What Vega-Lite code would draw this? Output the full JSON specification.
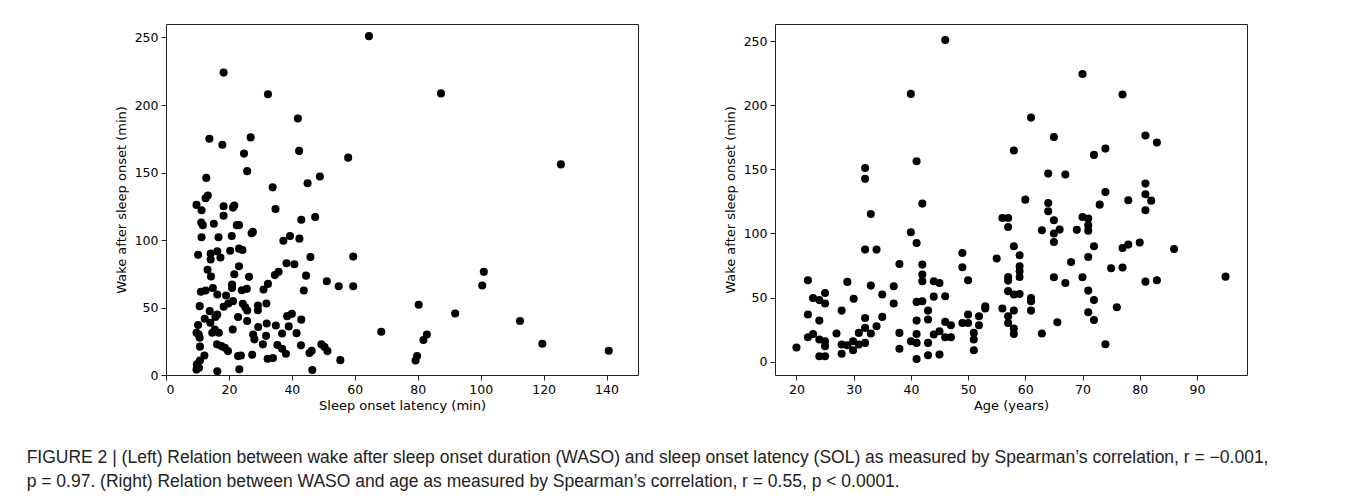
{
  "$schema": "https://vega.github.io/schema/vega-lite/v6.json",
  "background": "white",
  "padding": {"left": 26, "top": 23, "right": 0, "bottom": 0},
  "datasets": {
    "sol": [
      {"sol":64.5,"waso":251},{"sol":18.3,"waso":224},{"sol":32.4,"waso":208},{"sol":41.9,"waso":190},{"sol":13.8,"waso":175},{"sol":26.9,"waso":176},{"sol":17.9,"waso":170.5},{"sol":24.8,"waso":164},{"sol":42.3,"waso":166},{"sol":57.9,"waso":161},
      {"sol":25.8,"waso":151},{"sol":12.8,"waso":146},{"sol":48.9,"waso":147},{"sol":33.9,"waso":139},{"sol":45.0,"waso":142},{"sol":34.8,"waso":123},{"sol":13.3,"waso":133},{"sol":12.6,"waso":131},{"sol":9.7,"waso":126},{"sol":11.3,"waso":122},
      {"sol":18.3,"waso":125},{"sol":21.7,"waso":125.6},{"sol":21.3,"waso":124},{"sol":18.3,"waso":118},{"sol":43.0,"waso":115},{"sol":47.4,"waso":117},{"sol":11.2,"waso":113},{"sol":11.7,"waso":111},{"sol":15.2,"waso":112},{"sol":22.5,"waso":111},
      {"sol":23.2,"waso":111},{"sol":11.3,"waso":102},{"sol":16.7,"waso":102},{"sol":20.9,"waso":103},{"sol":27.2,"waso":105},{"sol":27.6,"waso":106},{"sol":37.3,"waso":99.5},{"sol":39.4,"waso":103},{"sol":42.4,"waso":101},{"sol":10.2,"waso":89},
      {"sol":14.2,"waso":90},{"sol":14.2,"waso":85.5},{"sol":16.3,"waso":91.6},{"sol":17.3,"waso":87},{"sol":20.4,"waso":92},{"sol":23.2,"waso":93.6},{"sol":24.3,"waso":92.6},{"sol":45.9,"waso":87.4},{"sol":59.5,"waso":87.7},{"sol":13.2,"waso":78},
      {"sol":14.3,"waso":73},{"sol":23.2,"waso":80.5},{"sol":21.7,"waso":74.6},{"sol":26.4,"waso":72.7},{"sol":38.3,"waso":82.8},{"sol":40.8,"waso":82},{"sol":34.6,"waso":74},{"sol":35.8,"waso":76.4},{"sol":44.5,"waso":73.6},{"sol":43.8,"waso":62.6},
      {"sol":51.1,"waso":69.5},{"sol":54.9,"waso":65.8},{"sol":59.5,"waso":65.8},{"sol":11.1,"waso":61.6},{"sol":12.6,"waso":62.6},{"sol":14.9,"waso":64.5},{"sol":16.3,"waso":59.6},{"sol":21.0,"waso":64.5},{"sol":21.0,"waso":67},{"sol":24.1,"waso":62.8},
      {"sol":25.7,"waso":63.8},{"sol":31.0,"waso":63.3},{"sol":32.4,"waso":67.5},{"sol":19.1,"waso":58.9},{"sol":21.3,"waso":54.7},{"sol":24.4,"waso":52.7},{"sol":25.2,"waso":50.2},{"sol":25.8,"waso":47.8},{"sol":10.7,"waso":51},{"sol":18.3,"waso":50.5},
      {"sol":19.8,"waso":53},{"sol":29.2,"waso":51.5},{"sol":29.2,"waso":48},{"sol":31.9,"waso":53},{"sol":22.9,"waso":43},{"sol":13.9,"waso":47.3},{"sol":16.3,"waso":44.8},{"sol":15.7,"waso":43},{"sol":12.3,"waso":41.6},{"sol":10.2,"waso":37},
      {"sol":25.8,"waso":40},{"sol":38.5,"waso":43.6},{"sol":40,"waso":45.3},{"sol":43,"waso":41},{"sol":14.1,"waso":38.7},{"sol":15.5,"waso":33.7},{"sol":16.8,"waso":31.3},{"sol":21.2,"waso":33.7},{"sol":29.3,"waso":35.5},{"sol":32,"waso":38.2},
      {"sol":34.9,"waso":36.7},{"sol":36.9,"waso":30.8},{"sol":39,"waso":36},{"sol":41.5,"waso":31},{"sol":9.7,"waso":31.3},{"sol":10.4,"waso":30},{"sol":10.8,"waso":21},{"sol":27.7,"waso":30},{"sol":28.1,"waso":26.4},{"sol":30.8,"waso":22.7},
      {"sol":31.8,"waso":29},{"sol":16.2,"waso":22.7},{"sol":17.6,"waso":21.4},{"sol":18.7,"waso":20.2},{"sol":19.7,"waso":17.7},{"sol":22.9,"waso":14},{"sol":23.8,"waso":14.5},{"sol":27.4,"waso":15},{"sol":35.4,"waso":22.2},{"sol":36.9,"waso":19.5},
      {"sol":38.1,"waso":15.8},{"sol":42.9,"waso":22},{"sol":45.6,"waso":16.3},{"sol":46.3,"waso":18},{"sol":49.4,"waso":22.7},{"sol":50.4,"waso":20.7},{"sol":51.3,"waso":17.7},{"sol":55.4,"waso":11},{"sol":32.3,"waso":12},{"sol":34,"waso":12.6},
      {"sol":9.8,"waso":7.9},{"sol":10.5,"waso":5.4},{"sol":10.8,"waso":10.8},{"sol":12.2,"waso":14.5},{"sol":16.3,"waso":2.7},{"sol":23.3,"waso":4.2},{"sol":46.5,"waso":3.7},{"sol":9.7,"waso":4},{"sol":14.7,"waso":31.3},{"sol":10.7,"waso":27.6},
      {"sol":87.4,"waso":208.6},{"sol":125.5,"waso":156},{"sol":101,"waso":76.4},{"sol":100.5,"waso":66.3},{"sol":80.3,"waso":52},{"sol":91.9,"waso":45.6},{"sol":112.5,"waso":40},{"sol":82.9,"waso":30},{"sol":81.8,"waso":25.9},{"sol":119.6,"waso":23.2},
      {"sol":140.7,"waso":18},{"sol":79.8,"waso":14},{"sol":79.3,"waso":10.8},{"sol":68.4,"waso":32}
    ],
    "age": [
      {"age":20,"waso":11},{"age":22,"waso":63.5},{"age":22,"waso":36.7},{"age":22,"waso":19},{"age":22.9,"waso":49.7},{"age":24,"waso":48},{"age":25,"waso":53.6},{"age":25,"waso":45.3},{"age":24,"waso":32},{"age":22.9,"waso":21.6},
      {"age":24,"waso":17.2},{"age":25,"waso":15.9},{"age":25,"waso":12},{"age":24,"waso":4.2},{"age":25,"waso":4.2},{"age":27,"waso":21.9},{"age":27.9,"waso":39.8},{"age":28.9,"waso":62.2},{"age":30,"waso":49},{"age":27.9,"waso":13.3},
      {"age":27.9,"waso":6.2},{"age":28.9,"waso":12.7},{"age":29.9,"waso":15.9},{"age":29.9,"waso":8.8},{"age":30.9,"waso":13.3},{"age":30.9,"waso":22.4},{"age":32,"waso":26.3},{"age":32,"waso":34.1},{"age":33,"waso":21.9},{"age":32,"waso":14.6},
      {"age":32,"waso":151},{"age":32,"waso":142.6},{"age":33,"waso":115.2},{"age":32,"waso":87.4},{"age":34,"waso":87.4},{"age":33,"waso":59.3},{"age":34,"waso":27.6},{"age":35,"waso":52.3},{"age":35,"waso":34.9},{"age":37,"waso":58.8},
      {"age":37,"waso":45.3},{"age":38,"waso":76.2},{"age":38,"waso":22.4},{"age":38,"waso":10.1},{"age":40,"waso":208.9},{"age":40,"waso":100.9},{"age":40,"waso":15.9},{"age":41,"waso":156.3},{"age":41,"waso":92.6},{"age":41,"waso":32},
      {"age":41,"waso":21.6},{"age":41,"waso":14.6},{"age":41,"waso":2.1},{"age":42,"waso":123.3},{"age":42,"waso":75.7},{"age":42,"waso":67.9},{"age":42,"waso":62.7},{"age":42,"waso":47.1},{"age":41,"waso":46.6},{"age":43,"waso":39.8},
      {"age":43,"waso":32.8},{"age":43,"waso":14.6},{"age":43,"waso":4.9},{"age":44,"waso":62.7},{"age":45,"waso":61.4},{"age":44,"waso":50.7},{"age":44,"waso":21.1},{"age":45,"waso":23.7},{"age":45,"waso":5.5},{"age":46,"waso":251},
      {"age":46,"waso":51},{"age":46,"waso":31},{"age":47,"waso":28.4},{"age":47,"waso":19},{"age":46,"waso":19},{"age":49,"waso":84.8},{"age":49,"waso":73.6},{"age":50,"waso":63.5},{"age":49,"waso":30.2},{"age":50,"waso":30.2},
      {"age":50,"waso":36.7},{"age":51,"waso":22.4},{"age":51,"waso":17.2},{"age":51,"waso":8.8},{"age":51.9,"waso":35.4},{"age":51.9,"waso":28.4},{"age":53,"waso":43.2},{"age":53,"waso":41.4},{"age":55,"waso":80.4},{"age":56,"waso":112},
      {"age":57,"waso":112},{"age":57,"waso":105},{"age":58,"waso":90},{"age":59,"waso":83},{"age":59,"waso":74.4},{"age":59,"waso":70.5},{"age":59,"waso":66},{"age":57,"waso":66},{"age":57,"waso":63.2},{"age":56,"waso":41.4},
      {"age":57,"waso":35.4},{"age":57,"waso":30.2},{"age":58,"waso":25.8},{"age":57,"waso":55},{"age":58,"waso":52.3},{"age":59,"waso":52.8},{"age":58,"waso":39.8},{"age":58,"waso":21.6},{"age":58,"waso":164.7},{"age":60,"waso":126.4},
      {"age":61,"waso":190.4},{"age":61,"waso":49.7},{"age":61,"waso":47.1},{"age":61,"waso":39.8},{"age":62.9,"waso":102.5},{"age":62.9,"waso":21.9},{"age":64,"waso":146.7},{"age":64,"waso":123.8},{"age":64,"waso":117.3},{"age":65,"waso":175.3},
      {"age":65,"waso":110.3},{"age":65,"waso":100},{"age":65,"waso":93.4},{"age":65,"waso":65.8},{"age":65.6,"waso":30.7},{"age":70,"waso":224.5},{"age":77,"waso":208.4},{"age":81,"waso":176.4},{"age":83,"waso":170.9},{"age":72,"waso":161.3},
      {"age":74,"waso":166.2},{"age":67,"waso":146},{"age":81,"waso":138.9},{"age":81,"waso":130.6},{"age":82,"waso":125.6},{"age":81,"waso":118.1},{"age":74,"waso":132.4},{"age":73,"waso":122.5},{"age":78,"waso":125.9},{"age":70,"waso":112.9},
      {"age":71,"waso":111.6},{"age":71,"waso":106.4},{"age":71,"waso":102.2},{"age":69,"waso":102.8},{"age":66,"waso":103},{"age":72,"waso":90},{"age":71,"waso":81.7},{"age":68,"waso":77.8},{"age":77,"waso":88.7},{"age":78,"waso":91.3},
      {"age":80,"waso":92.9},{"age":86,"waso":87.9},{"age":75,"waso":72.8},{"age":77,"waso":73.4},{"age":70,"waso":65.8},{"age":67,"waso":61.4},{"age":81,"waso":62.4},{"age":83,"waso":63.5},{"age":95,"waso":66.3},{"age":71,"waso":55.4},
      {"age":72,"waso":48.1},{"age":76,"waso":42.4},{"age":71,"waso":38.5},{"age":72,"waso":32.5},{"age":74,"waso":13.5}
    ]
  },
  "spacing": 84,
  "hconcat": [
    {
      "width": 472,
      "height": 351,
      "data": {"name": "sol"},
      "mark": {"type": "point", "filled": true, "size": 65, "color": "black", "opacity": 1, "strokeWidth": 0},
      "encoding": {
        "x": {"field": "sol", "type": "quantitative", "scale": {"domain": [0, 150], "nice": false, "zero": false},
              "axis": {"title": "Sleep onset latency (min)", "values": [0, 20, 40, 60, 80, 100, 120, 140]}},
        "y": {"field": "waso", "type": "quantitative", "scale": {"domain": [0, 260], "nice": false, "zero": false},
              "axis": {"title": "Wake after sleep onset (min)", "values": [0, 50, 100, 150, 200, 250]}}
      }
    },
    {
      "width": 472,
      "height": 351,
      "data": {"name": "age"},
      "mark": {"type": "point", "filled": true, "size": 65, "color": "black", "opacity": 1, "strokeWidth": 0},
      "encoding": {
        "x": {"field": "age", "type": "quantitative", "scale": {"domain": [16.25, 98.75], "nice": false, "zero": false},
              "axis": {"title": "Age (years)", "values": [20, 30, 40, 50, 60, 70, 80, 90]}},
        "y": {"field": "waso", "type": "quantitative", "scale": {"domain": [-10.45, 263.45], "nice": false, "zero": false},
              "axis": {"title": "Wake after sleep onset (min)", "values": [0, 50, 100, 150, 200, 250]}}
      }
    }
  ],
  "title": {
    "text": [
      "FIGURE 2 | (Left) Relation between wake after sleep onset duration (WASO) and sleep onset latency (SOL) as measured by Spearman’s correlation, r = −0.001,",
      "p = 0.97. (Right) Relation between WASO and age as measured by Spearman’s correlation, r = 0.55, p <  0.0001."
    ],
    "orient": "bottom",
    "anchor": "start",
    "frame": "bounds",
    "dx": -88,
    "offset": 36,
    "font": "Liberation Sans",
    "fontSize": 17.5,
    "fontWeight": "normal",
    "color": "#222222",
    "lineHeight": 24
  },
  "config": {
    "view": {"stroke": "#222222", "strokeWidth": 1},
    "axis": {
      "domain": false,
      "grid": false,
      "ticks": true,
      "tickColor": "#222222",
      "tickSize": 5,
      "labelFont": "DejaVu Sans",
      "labelFontSize": 12.5,
      "labelColor": "#000000",
      "labelPadding": 3,
      "titleFont": "DejaVu Sans",
      "titleFontSize": 13,
      "titleFontWeight": "normal",
      "titleColor": "#000000"
    },
    "axisX": {"titlePadding": 4},
    "axisY": {"titlePadding": 6}
  }
}
